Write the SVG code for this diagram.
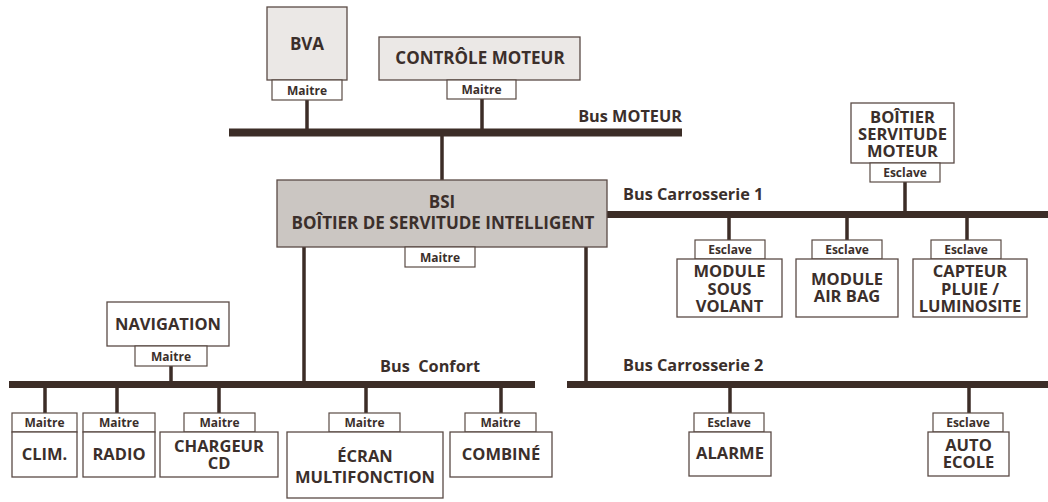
<svg xmlns="http://www.w3.org/2000/svg" width="1048" height="502" viewBox="0 0 1048 502">
<style>
.bg{fill:#ffffff}
.box{fill:#ffffff;stroke:#5a4b45;stroke-width:1.3}
.lg{fill:#ebe8e6}
.dg{fill:#cbc6c2}
.tab{fill:#ffffff;stroke:#5a4b45;stroke-width:1.2}
.t{font-family:"Open Sans","Liberation Sans",sans-serif;font-weight:700;fill:#3b2f2b;text-anchor:middle}
.n{font-size:16.5px}
.b{font-size:17px}
.s{font-size:12px}
.bus{font-family:"Open Sans","Liberation Sans",sans-serif;font-weight:700;fill:#3b2f2b;font-size:16.3px;white-space:pre}
.bar{fill:#3c2d27}
.stub{stroke:#3c2d27;stroke-width:3.5;fill:none}
</style>
<rect class="bg" x="0" y="0" width="1048" height="502"/>
<g id="connectors">
<rect class="bar" x="229" y="128.5" width="453" height="8"/>
<rect class="bar" x="607" y="211" width="441" height="7"/>
<rect class="bar" x="9" y="381" width="526" height="7"/>
<rect class="bar" x="567" y="381" width="481" height="7"/>
<path class="stub" d="M307 100V129M482 99V129M442 136V180M304 247V382M586 247V382M905 182V212M729 217V240M847 217V240M967 217V240M171 366V382M45 387V413M117 387V413M219 387V413M366 387V413M501 387V413M730 387V413M969 387V413"/>
<text class="bus" x="682" y="122" text-anchor="end">Bus MOTEUR</text>
<text class="bus" x="623" y="200">Bus Carrosserie 1</text>
<text class="bus" x="380" y="372">Bus  Confort</text>
<text class="bus" x="623" y="371">Bus Carrosserie 2</text>
</g>
<g id="bva">
<rect class="box lg" x="267" y="7" width="80" height="73"/>
<text class="t b" x="307" y="50">BVA</text>
<rect class="tab" x="272" y="80" width="70" height="20"/>
<text class="t s" x="307" y="94.5">Maitre</text>
</g>
<g id="controle-moteur">
<rect class="box lg" x="379" y="37" width="201" height="43"/>
<text class="t b" x="480" y="64">CONTRÔLE MOTEUR</text>
<rect class="tab" x="447" y="80" width="69" height="19"/>
<text class="t s" x="481.5" y="94">Maitre</text>
</g>
<g id="bsi">
<rect class="box dg" x="277" y="180" width="330" height="67"/>
<text class="t b" x="442" y="208">BSI<tspan x="443" y="229">BOÎTIER DE SERVITUDE INTELLIGENT</tspan></text>
<rect class="tab" x="405" y="247" width="70" height="20"/>
<text class="t s" x="440" y="261.5">Maitre</text>
</g>
<g id="boitier-servitude-moteur">
<rect class="box" x="851" y="103" width="103" height="60"/>
<text class="t n" x="902.5" y="123">BOÎTIER<tspan x="902.5" y="140">SERVITUDE</tspan><tspan x="902.5" y="157">MOTEUR</tspan></text>
<rect class="tab" x="870" y="163" width="70" height="19"/>
<text class="t s" x="905" y="177">Esclave</text>
</g>
<g id="module-sous-volant">
<rect class="tab" x="695" y="240" width="70" height="19"/>
<text class="t s" x="730" y="254">Esclave</text>
<rect class="box" x="677" y="259" width="105" height="58"/>
<text class="t n" x="729.5" y="277">MODULE<tspan x="729.5" y="295">SOUS</tspan><tspan x="729.5" y="312">VOLANT</tspan></text>
</g>
<g id="module-air-bag">
<rect class="tab" x="812" y="240" width="70" height="19"/>
<text class="t s" x="847" y="254">Esclave</text>
<rect class="box" x="796" y="259" width="102" height="58"/>
<text class="t n" x="847" y="285">MODULE<tspan x="847" y="302">AIR BAG</tspan></text>
</g>
<g id="capteur-pluie">
<rect class="tab" x="931" y="240" width="70" height="19"/>
<text class="t s" x="966" y="254">Esclave</text>
<rect class="box" x="913" y="259" width="114" height="58"/>
<text class="t n" x="970" y="277">CAPTEUR<tspan x="970" y="295">PLUIE /</tspan><tspan x="970" y="312">LUMINOSITE</tspan></text>
</g>
<g id="navigation">
<rect class="box" x="107" y="302" width="122" height="44"/>
<text class="t n" x="168" y="330">NAVIGATION</text>
<rect class="tab" x="135" y="346" width="72" height="20"/>
<text class="t s" x="171" y="360.5">Maitre</text>
</g>
<g id="clim">
<rect class="tab" x="12" y="413" width="65" height="19"/>
<text class="t s" x="44.5" y="427">Maitre</text>
<rect class="box" x="12" y="432" width="65" height="45"/>
<text class="t n" x="44.5" y="460">CLIM.</text>
</g>
<g id="radio">
<rect class="tab" x="83" y="413" width="72" height="19"/>
<text class="t s" x="119" y="427">Maitre</text>
<rect class="box" x="83" y="432" width="72" height="45"/>
<text class="t n" x="119" y="460">RADIO</text>
</g>
<g id="chargeur-cd">
<rect class="tab" x="184" y="413" width="71" height="19"/>
<text class="t s" x="219.5" y="427">Maitre</text>
<rect class="box" x="160" y="432" width="118" height="45"/>
<text class="t n" x="219" y="452">CHARGEUR<tspan x="219" y="469">CD</tspan></text>
</g>
<g id="ecran-multifonction">
<rect class="tab" x="329" y="413" width="71" height="19"/>
<text class="t s" x="364.5" y="427">Maitre</text>
<rect class="box" x="287" y="432" width="156" height="66"/>
<text class="t n" x="365" y="462">ÉCRAN<tspan x="365" y="483">MULTIFONCTION</tspan></text>
</g>
<g id="combine">
<rect class="tab" x="465" y="413" width="71" height="19"/>
<text class="t s" x="500.5" y="427">Maitre</text>
<rect class="box" x="450" y="432" width="102" height="45"/>
<text class="t n" x="501" y="460">COMBINÉ</text>
</g>
<g id="alarme">
<rect class="tab" x="694" y="413" width="70" height="19"/>
<text class="t s" x="729" y="427">Esclave</text>
<rect class="box" x="689" y="432" width="82" height="44"/>
<text class="t n" x="730" y="459">ALARME</text>
</g>
<g id="auto-ecole">
<rect class="tab" x="933" y="413" width="70" height="19"/>
<text class="t s" x="968" y="427">Esclave</text>
<rect class="box" x="928" y="432" width="81" height="44"/>
<text class="t n" x="968.5" y="451">AUTO<tspan x="968.5" y="468">ECOLE</tspan></text>
</g>
</svg>
